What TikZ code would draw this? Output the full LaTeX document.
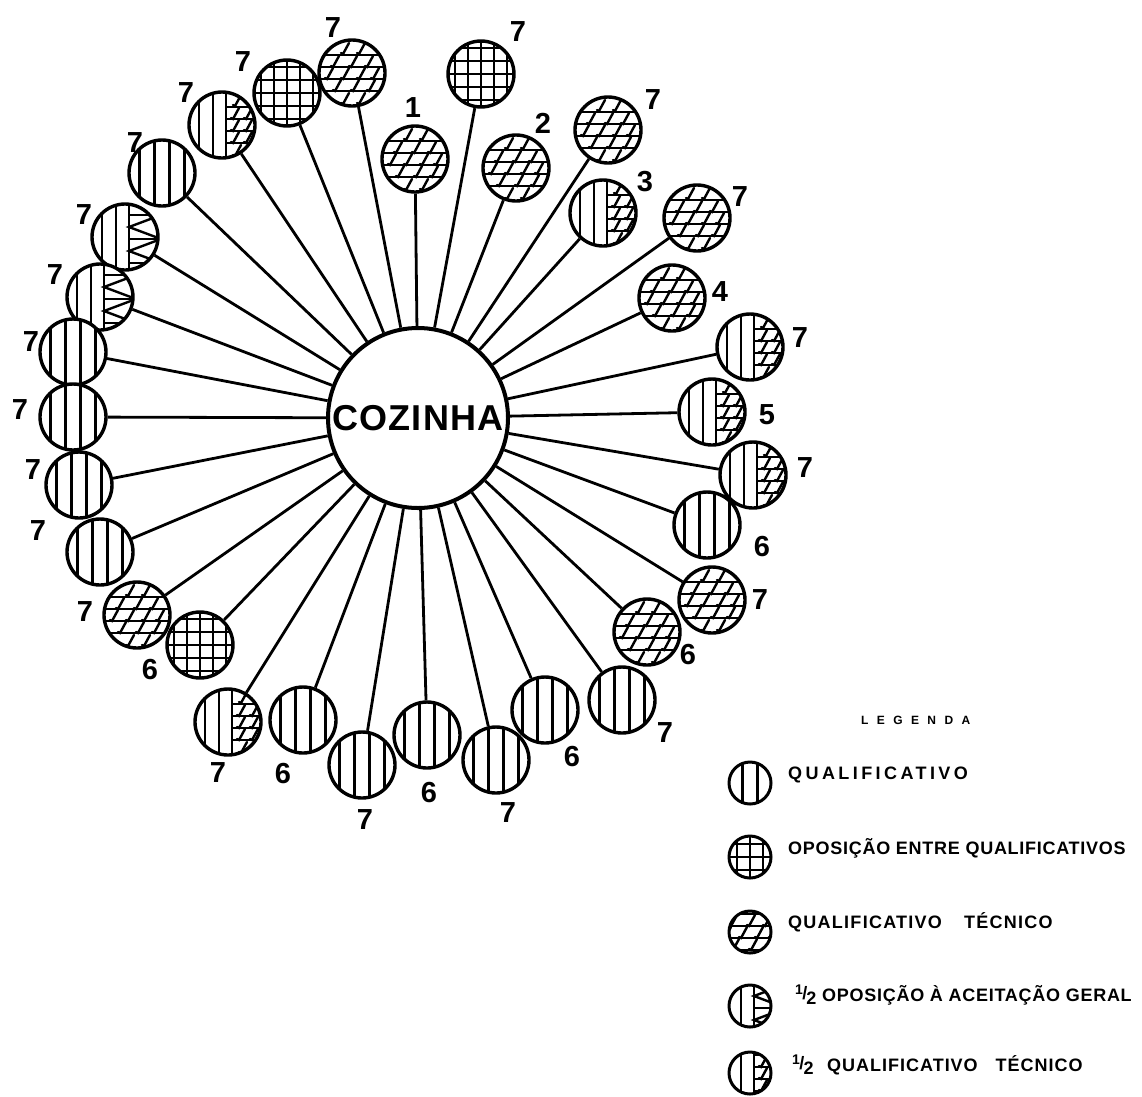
\documentclass[tikz,border=0pt]{standalone}
\usepackage{fontspec}
\setmainfont{Liberation Sans}
\newcommand\patV{\foreach \xx in {-22.5,-7.5,7.5,22.5}{\draw[pat] (\xx,-40) -- (\xx,40);}}
\newcommand\patG{\foreach \xx in {-26,-13,0,13,26}{\draw[pat] (\xx,-40) -- (\xx,40); \draw[pat] (-40,\xx) -- (40,\xx);}}
\newcommand\mymarks[1]{\foreach \xx/\yy in {#1}{\draw[pat,line cap=round] (\xx,\yy) ++(-5,5) -- ++(2,1) -- ++(6,-11);}}
\newcommand\patT{\foreach \yy in {-18,-6,6,18}{\draw[pat] (-40,\yy) -- (40,\yy);}%
  \mymarks{-6/-25,10/-25,-16/-12,2/-12,18/-12,-22/0,-6/0,10/0,24/0,-14/12,4/12,20/12,-6/25,10/25}}
\newcommand\patHT{\foreach \xx in {-23,-9,4}{\draw[pat] (\xx,-40) -- (\xx,40);}%
  \foreach \yy in {-18,-6,6,18}{\draw[pat] (4,\yy) -- (40,\yy);}%
  \mymarks{16/-25,14/-12,27/-12,14/0,27/0,14/12,27/12,16/25}}
\newcommand\patHA{\foreach \xx in {-23,-9,4}{\draw[pat] (\xx,-40) -- (\xx,40);}%
  \draw[pat] (4,-36) -- (36,-22) -- (4,-10) -- (36,2) -- (4,14) -- (36,26) -- (4,38);%
  \foreach \yy in {-22,2,26}{\draw[pat] (4,\yy) -- (40,\yy);}}
\newcommand\half{{\fontsize{14}{14}\selectfont\raisebox{7pt}{1}}\kern-0.5pt{\fontsize{18}{18}\selectfont\raisebox{2pt}{/}}\kern-1pt\raisebox{-3pt}{2}}
\tikzset{
  pat/.style={line width=2.4pt},
  small/.style={circle,draw,line width=3.4pt,minimum size=66pt,inner sep=0pt,fill=white},
  leg/.style={circle,draw,line width=3pt,minimum size=42pt,inner sep=0pt,fill=white},
  vc/.style={path picture={\begin{scope}[shift={(path picture bounding box.center)},scale=#1]\patV\end{scope}}},
  vc/.default=1,
  gc/.style={path picture={\begin{scope}[shift={(path picture bounding box.center)},scale=#1]\patG\end{scope}}},
  gc/.default=1,
  tc/.style={path picture={\begin{scope}[shift={(path picture bounding box.center)},scale=#1]\patT\end{scope}}},
  tc/.default=1,
  htc/.style={path picture={\begin{scope}[shift={(path picture bounding box.center)},scale=#1]\patHT\end{scope}}},
  htc/.default=1,
  hac/.style={path picture={\begin{scope}[shift={(path picture bounding box.center)},scale=#1]\patHA\end{scope}}},
  hac/.default=1,
  conn/.style={line width=2.8pt},
  num/.style={inner sep=0pt,font=\fontsize{29}{29}\selectfont\bfseries},
  legt/.style={inner sep=0pt,anchor=base west,font=\fontsize{18}{18}\selectfont\bfseries},
}
\begin{document}
\begin{tikzpicture}[x=1pt,y=-1pt]
\fill[white] (0,0) rectangle (1142,1096);
\useasboundingbox (0,0) rectangle (1142,1096);
\node[circle,draw,line width=4pt,minimum size=180pt,inner sep=0pt,fill=white,
  font=\fontsize{36}{36}\selectfont\bfseries] (cz) at (418,418) {\addfontfeature{LetterSpace=3}COZINHA};
\foreach \n/\x/\y/\p/\t/\lx/\ly in {
  1/352/73/tc/7/333/28,
  2/287/93/gc/7/243/62,
  3/222/125/htc/7/186/93,
  4/162/173/vc/7/135/143,
  5/125/237/hac/7/84/215,
  6/100/297/hac/7/55/275,
  7/73/352/vc/7/31/342,
  8/73/417/vc/7/20/410,
  9/79/485/vc/7/33/470,
  10/100/552/vc/7/38/531,
  11/137/615/tc/7/85/612,
  12/200/645/gc/6/150/670,
  13/228/722/htc/7/218/773,
  14/303/720/vc/6/283/773,
  15/362/765/vc/7/365/820,
  16/427/735/vc/6/429/792,
  17/496/760/vc/7/508/813,
  18/545/710/vc/6/572/757,
  19/622/700/vc/7/665/733,
  20/647/632/tc/6/688/655,
  21/712/600/tc/7/760/600,
  22/707/525/vc/6/762/547,
  23/753/475/htc/7/805/468,
  24/712/412/htc/5/767/415,
  25/750/347/htc/7/800/338,
  26/672/298/tc/4/720/292,
  27/697/218/tc/7/740/197,
  28/603/213/htc/3/645/182,
  29/608/130/tc/7/653/100,
  30/516/168/tc/2/543/123,
  31/481/74/gc/7/518/32,
  32/415/159/tc/1/413/108}{
  \node[small,\p] (c\n) at (\x,\y) {};
  \node[num] (l\n) at (\lx,\ly) {\t};
}
\foreach \n in {1,...,32}{\draw[conn] (c\n) -- (cz);}
% legend
\node[inner sep=0pt,anchor=base west,font=\fontsize{12}{12}\selectfont\bfseries] (lg) at (861,724) {\addfontfeature{LetterSpace=70}LEGENDA};
\node[leg,vc=0.64] (k1) at (750,783) {};
\node[leg,gc=0.64] (k2) at (750,857) {};
\node[leg,tc=0.64] (k3) at (750,932) {};
\node[leg,hac=0.64] (k4) at (750,1006) {};
\node[leg,htc=0.64] (k5) at (750,1073) {};
\node[legt] (t1) at (788,779.5) {\addfontfeature{LetterSpace=19}QUALIFICATIVO};
\node[legt] (t2) at (788,854.5) {\addfontfeature{LetterSpace=4}OPOSIÇÃO ENTRE QUALIFICATIVOS};
\node[legt] (t3) at (788,928.5) {\addfontfeature{LetterSpace=7}QUALIFICATIVO\hspace{22pt}TÉCNICO};
\node[legt] (h4) at (795,1001.5) {\half};
\node[legt] (t4) at (822,1001.5) {\addfontfeature{LetterSpace=4}OPOSIÇÃO À ACEITAÇÃO GERAL};
\node[legt] (h5) at (792,1071.5) {\half};
\node[legt] (t5) at (827,1071.5) {\addfontfeature{LetterSpace=5.5}QUALIFICATIVO\hspace{18pt}TÉCNICO};
\end{tikzpicture}
\end{document}
